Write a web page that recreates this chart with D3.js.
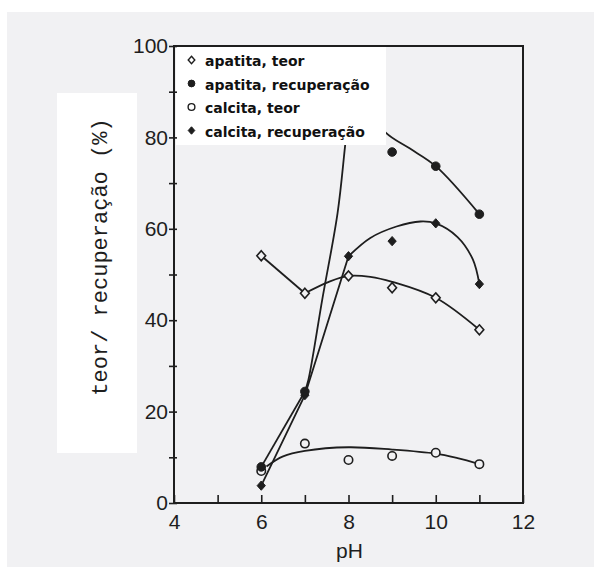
<!DOCTYPE html>
<html>
<head>
<meta charset="utf-8">
<script src="https://cdn.jsdelivr.net/npm/d3@7"></script>
<style>
  html, body { margin: 0; padding: 0; background: #ffffff; }
  svg { display: block; }
</style>
</head>
<body>
<svg id="chart" width="594" height="567"></svg>
<script>
// Measured points: pH against grade (teor) and recovery (recuperação), %
const pH = [6, 7, 8, 9, 10, 11];
const apatitaTeor = [54.1, 45.9, 49.7, 47.1, 44.9, 37.9];
const apatitaRecuperacao = [7.9, 24.4, null, 76.8, 73.7, 63.2];
const calcitaTeor = [7.0, 13.0, 9.4, 10.3, 11.0, 8.5];
const calcitaRecuperacao = [3.8, 23.6, 54.0, 57.3, 61.2, 47.9];

// Hand-faired trend lines, as [pH, %] knots; straight pieces and smooth pieces
const apatitaTeorStraight = [[6, 54.1], [7, 45.9]];
const apatitaTeorSmooth = [[7, 45.9], [7.55, 48.4], [8, 49.7], [8.5, 49.5], [9, 48.4], [10, 44.9], [11, 37.9]];
const apatitaRecStraight = [[6, 7.9], [7, 24.4]];
const apatitaRecRise = [[7, 24.4], [7.08, 26.9], [7.4, 44.6], [7.75, 63.5], [7.92, 78], [8.05, 90]];
const apatitaRecFall = [[8.05, 90], [8.4, 87], [8.86, 81], [9.4, 77.6], [10, 73.7], [11, 63.2]];
const calcitaTeorSmooth = [[6.12, 8.0], [6.5, 10.2], [7, 11.4], [8, 12.2], [9, 11.7], [10, 10.8], [10.5, 9.8], [11, 8.5]];
const calcitaRecStraight = [[6, 3.8], [7, 23.6], [8, 54.0]];
const calcitaRecSmooth = [[8, 54.0], [8.5, 58.0], [9.1, 60.5], [9.65, 61.6], [10, 61.2], [10.5, 58.2], [10.85, 53.3], [11, 47.9]];

// Axis ticks
const xTicks = [4, 5, 6, 7, 8, 9, 10, 11, 12];
const xTickLabels = [4, 6, 8, 10, 12];
const yTicks = [0, 10, 20, 30, 40, 50, 60, 70, 80, 90, 100];
const yTickLabels = [0, 20, 40, 60, 80, 100];

const legendLabels = ["apatita, teor", "apatita, recuperação", "calcita, teor", "calcita, recuperação"];
const xTitle = "pH";
const yTitle = "teor/ recuperação (%)";

const ink = "#1e1e1e";
const paper = "#f1f1f3";

const svg = d3.select("#chart");

// page: grey scanned sheet with a thin white edge at top and left
svg.append("rect").attr("x", 7).attr("y", 12).attr("width", 587).attr("height", 555).attr("fill", paper);

const x = d3.scaleLinear().domain([4, 12]).range([174, 523]);
const y = d3.scaleLinear().domain([0, 100]).range([503, 46]);

// diamond marker (rhombus) as a custom symbol type
const rhombus = {
  draw(ctx, size) {
    const h = Math.sqrt(size) * 0.62, w = Math.sqrt(size) * 0.55;
    ctx.moveTo(0, -h); ctx.lineTo(w, 0); ctx.lineTo(0, h); ctx.lineTo(-w, 0); ctx.closePath();
  }
};

const straight = d3.line().x(d => x(d[0])).y(d => y(d[1])).curve(d3.curveLinear);
const smooth = d3.line().x(d => x(d[0])).y(d => y(d[1])).curve(d3.curveCatmullRom.alpha(0.5));

const lines = svg.append("g").attr("fill", "none").attr("stroke", ink).attr("stroke-width", 1.8).attr("stroke-linejoin", "round");
[[apatitaTeorStraight, straight], [apatitaTeorSmooth, smooth],
 [apatitaRecStraight, straight], [apatitaRecRise, smooth], [apatitaRecFall, smooth],
 [calcitaTeorSmooth, smooth],
 [calcitaRecStraight, straight], [calcitaRecSmooth, smooth]]
  .forEach(([pts, gen]) => lines.append("path").attr("d", gen(pts)));

// markers
const series = [
  { vals: apatitaTeor, type: rhombus, size: 64, fill: paper, stroke: ink, sw: 1.6 },
  { vals: calcitaTeor, type: d3.symbolCircle, size: 56, fill: paper, stroke: ink, sw: 1.6 },
  { vals: calcitaRecuperacao, type: rhombus, size: 56, fill: ink, stroke: ink, sw: 1 },
  { vals: apatitaRecuperacao, type: d3.symbolCircle, size: 58, fill: ink, stroke: ink, sw: 1 }
];
series.forEach(s => {
  svg.append("g").selectAll("path")
    .data(pH.map((p, i) => [p, s.vals[i]]).filter(d => d[1] != null))
    .join("path")
    .attr("transform", d => `translate(${x(d[0])},${y(d[1])})`)
    .attr("d", d3.symbol().type(s.type).size(s.size))
    .attr("fill", s.fill).attr("stroke", s.stroke).attr("stroke-width", s.sw);
});

// legend panel (white, sits over the upper-left of the plot)
svg.append("rect").attr("x", 176).attr("y", 47).attr("width", 210).attr("height", 98).attr("fill", "#ffffff");

// frame
svg.append("rect")
  .attr("x", x(4)).attr("y", y(100))
  .attr("width", x(12) - x(4)).attr("height", y(0) - y(100))
  .attr("fill", "none").attr("stroke", ink).attr("stroke-width", 2);

// x axis: inward ticks at every unit, labels on even values
const xAxis = svg.append("g").attr("transform", `translate(0,${y(0)})`)
  .call(d3.axisBottom(x).tickValues(xTicks).tickSize(-8).tickPadding(11)
    .tickFormat(d => xTickLabels.includes(d) ? d : ""));
xAxis.select(".domain").remove();
xAxis.selectAll("line").attr("stroke", ink).attr("stroke-width", 1.6);
xAxis.selectAll("text").attr("fill", ink)
  .style("font-family", "'Liberation Sans', Arial, sans-serif").style("font-size", "21px");

// y axis: ticks every 10, labels every 20
const yAxis = svg.append("g").attr("transform", `translate(${x(4)},0)`)
  .call(d3.axisLeft(y).tickValues(yTicks).tickSize(5).tickPadding(1)
    .tickFormat(d => yTickLabels.includes(d) ? d : ""));
yAxis.select(".domain").remove();
yAxis.selectAll("line").attr("stroke", ink).attr("stroke-width", 1.6).attr("x2", -5).attr("x1", 3);
yAxis.selectAll("text").attr("fill", ink)
  .style("font-family", "'Liberation Sans', Arial, sans-serif").style("font-size", "21px");

// x title
svg.append("text").attr("x", (x(4) + x(12)) / 2 + 1).attr("y", 558)
  .attr("text-anchor", "middle").attr("fill", ink)
  .style("font-family", "'Liberation Sans', Arial, sans-serif").style("font-size", "21px")
  .text(xTitle);

// y title on its own white card
svg.append("rect").attr("x", 57).attr("y", 93).attr("width", 80).attr("height", 360).attr("fill", "#ffffff");
svg.append("text")
  .attr("transform", "translate(107,257) rotate(-90)")
  .attr("text-anchor", "middle").attr("fill", ink)
  .style("font-family", "'Liberation Mono', 'DejaVu Sans Mono', monospace").style("font-size", "22px")
  .text(yTitle);

// legend entries
const legendSymbols = [
  { type: rhombus, size: 36, fill: "#ffffff", stroke: ink, sw: 1.4 },
  { type: d3.symbolCircle, size: 36, fill: ink, stroke: ink, sw: 1 },
  { type: d3.symbolCircle, size: 36, fill: "#ffffff", stroke: ink, sw: 1.4 },
  { type: rhombus, size: 36, fill: ink, stroke: ink, sw: 1 }
];
const legendRow = d3.scaleLinear().domain([0, 3]).range([66, 136.5]);
const legend = svg.append("g");
legendLabels.forEach((label, i) => {
  const s = legendSymbols[i];
  legend.append("path")
    .attr("transform", `translate(191.5,${legendRow(i) - 6})`)
    .attr("d", d3.symbol().type(s.type).size(s.size))
    .attr("fill", s.fill).attr("stroke", s.stroke).attr("stroke-width", s.sw);
  legend.append("text").attr("x", 205).attr("y", legendRow(i))
    .attr("fill", "#111")
    .style("font-family", "'DejaVu Sans', sans-serif").style("font-weight", "bold").style("font-size", "14px")
    .text(label);
});
</script>
</body>
</html>
